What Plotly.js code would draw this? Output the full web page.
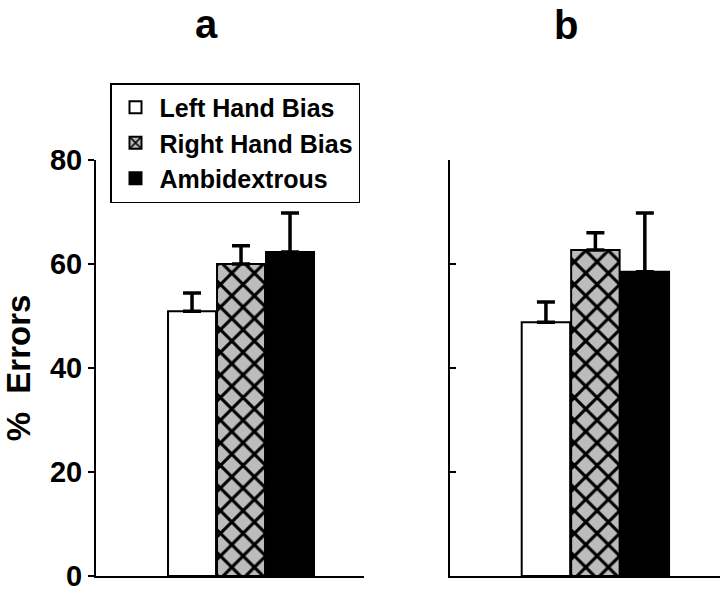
<!DOCTYPE html>
<html>
<head>
<meta charset="utf-8">
<script src="https://cdn.plot.ly/plotly-3.0.1.min.js"></script>
<style>html,body{margin:0;padding:0;background:#fff;}#chart{width:720px;height:596px;}</style>
</head>
<body>
<div id="chart"></div>
<script>
// ---- data ----
const categories = ["Left Hand Bias", "Right Hand Bias", "Ambidextrous"];
const panelA_values = [50.9, 60.0, 62.3];
const panelA_errors = [3.5, 3.5, 7.5];
const panelB_values = [48.8, 62.7, 58.5];
const panelB_errors = [3.9, 3.3, 11.3];
const panelTitles = ["a", "b"];
const yTicks = [0, 20, 40, 60, 80];

// ---- styles ----
const FONT = "Liberation Sans, Arial, Helvetica, sans-serif";
const fills = [
  {color: "white"},
  {color: "white", pattern: {shape: "x", fgcolor: "black", bgcolor: "#bcbcbc", size: 16, solidity: 0.35}},
  {color: "black"}
];

const traces = [];
function addPanel(values, errors, xa, ya, showLegend) {
  categories.forEach((c, i) => {
    const m = Object.assign({line: {color: "black", width: 2}}, fills[i]);
    traces.push({
      type: "bar",
      name: c,
      x: [c],
      y: [values[i]],
      xaxis: xa, yaxis: ya,
      width: 0.98,
      marker: m,
      showlegend: showLegend,
      error_y: {type: "data", symmetric: false, array: [errors[i]], arrayminus: [0],
                color: "black", thickness: 3.5, width: 9}
    });
  });
}
addPanel(panelA_values, panelA_errors, "x", "y", true);
addPanel(panelB_values, panelB_errors, "x2", "y2", false);

const H = 596, MT = 160, MB = 20, PH = H - MT - MB;
const py = p => (H - MB - p) / PH;

const layout = {
  width: 720, height: 596,
  margin: {l: 0, r: 0, t: MT, b: MB},
  paper_bgcolor: "white", plot_bgcolor: "white",
  barmode: "overlay",
  font: {family: FONT, color: "black", weight: "bold"},
  showlegend: true,
  legend: {
    x: 110/720, y: py(83), xanchor: "left", yanchor: "top",
    bordercolor: "black", borderwidth: 1.5, bgcolor: "white",
    font: {family: FONT, size: 25, weight: "bold", color: "black"},
    tracegroupgap: 0, itemwidth: 38
  },
  xaxis: {domain: [96/720, 364/720], range: [-1.96, 3.51], type: "category",
          categoryarray: categories,
          showline: true, linecolor: "black", linewidth: 2, showticklabels: false,
          ticks: "", showgrid: false, zeroline: false},
  xaxis2: {domain: [450/720, 1], range: [-1.94, 3.52], type: "category",
          categoryarray: categories,
          showline: true, linecolor: "black", linewidth: 2, showticklabels: false,
          ticks: "", showgrid: false, zeroline: false, anchor: "y2"},
  yaxis: {range: [0, 80], tickvals: yTicks, ticks: "outside", ticklen: 6, tickwidth: 2,
          tickcolor: "black", showline: true, linecolor: "black", linewidth: 2,
          showgrid: false, zeroline: false, anchor: "x",
          tickfont: {family: FONT, size: 29, weight: "bold", color: "black"},
          title: {text: "%\u00a0 Errors", standoff: 10,
                  font: {family: FONT, size: 33, weight: "bold", color: "black"}}},
  yaxis2: {range: [0, 80], tickvals: yTicks, ticks: "inside", ticklen: 6, tickwidth: 2,
          tickcolor: "black", showline: true, linecolor: "black", linewidth: 2,
          showgrid: false, zeroline: false, showticklabels: false, anchor: "x2"},
  annotations: [
    {text: panelTitles[0], xref: "paper", yref: "paper", x: 206/720, y: py(24),
     xanchor: "center", yanchor: "middle", showarrow: false,
     font: {family: FONT, size: 40, weight: "bold", color: "black"}},
    {text: panelTitles[1], xref: "paper", yref: "paper", x: 566/720, y: py(25),
     xanchor: "center", yanchor: "middle", showarrow: false,
     font: {family: FONT, size: 40, weight: "bold", color: "black"}}
  ]
};

Plotly.newPlot("chart", traces, layout, {staticPlot: true, displayModeBar: false});
</script>
</body>
</html>
